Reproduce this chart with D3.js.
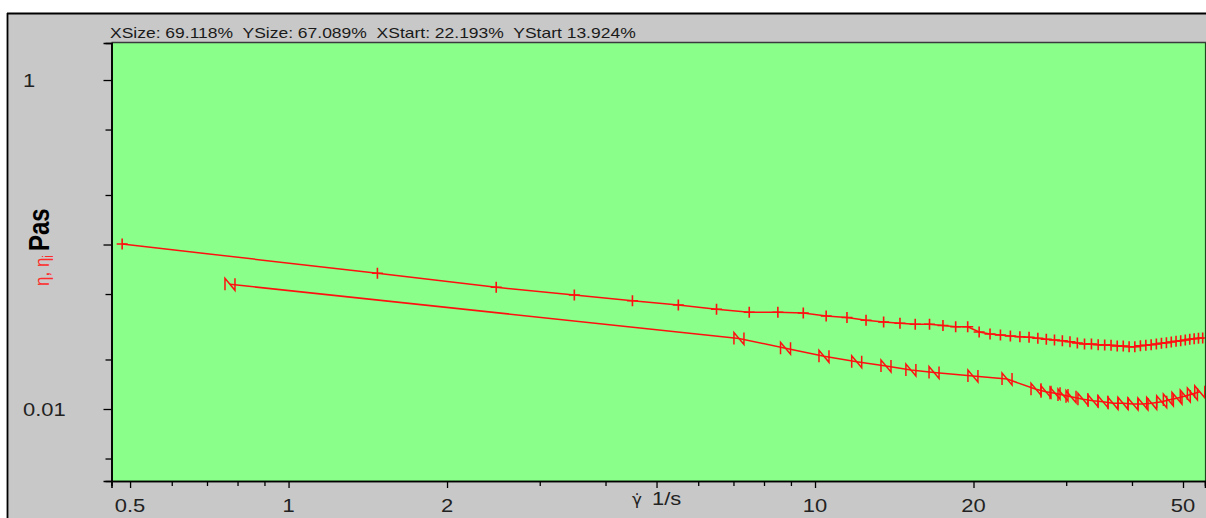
<!DOCTYPE html>
<html>
<head>
<meta charset="utf-8">
<script src="https://cdn.jsdelivr.net/npm/d3@7"></script>
<style>
  html, body { margin: 0; padding: 0; background: #fff; overflow: hidden; }
  svg { display: block; }
  text { font-family: "Liberation Sans", Arial, sans-serif; }
</style>
</head>
<body>
<svg id="chart" width="1206" height="518"></svg>
<script>
// Viscosity η (1/s, Pa·s)
const shearRate = [0.483, 1.475, 2.48, 3.49, 4.5, 5.5, 6.5, 7.5, 8.5, 9.5,
  10.5, 11.5, 12.5, 13.5, 14.5, 15.5, 16.5, 17.5, 18.5, 19.5,
  20.5, 21.5, 22.5, 23.5, 24.5, 25.5, 26.5, 27.5, 28.5, 29.5,
  30.5, 31.5, 32.5, 33.5, 34.5, 35.5, 36.5, 37.5, 38.5, 39.5,
  40.5, 41.5, 42.5, 43.5, 44.5, 45.5, 46.5, 47.5, 48.5, 49.5,
  50.5, 51.5, 52.5, 53.5, 54.5];
const viscosity = [0.1007, 0.06683, 0.05492, 0.04931, 0.04553, 0.04287, 0.04037, 0.03871, 0.03871, 0.03834,
  0.03676, 0.03600, 0.03461, 0.03380, 0.03319, 0.03277, 0.03277, 0.03218, 0.03164, 0.03164,
  0.02938, 0.02857, 0.02817, 0.02778, 0.02751, 0.02728, 0.02690, 0.02653, 0.02627, 0.02601,
  0.02565, 0.02519, 0.02484, 0.02484, 0.02459, 0.02449, 0.02439, 0.02415, 0.02415, 0.02392,
  0.02392, 0.02425, 0.02439, 0.02459, 0.02484, 0.02508, 0.02529, 0.02554, 0.02579, 0.02601,
  0.02627, 0.02653, 0.02675, 0.02690, 0.02701];

// Viscosity ηi
const shearRateI = [0.774, 7.17, 8.79, 10.4, 12.0, 13.64, 15.21, 16.83, 19.95, 23.16,
  26.29, 27.46, 28.57, 29.58, 30.64, 32.28, 33.73, 35.24, 36.81, 38.46,
  40.18, 41.97, 43.6, 45.55, 46.9, 48.7, 50.5, 52.1, 53.8];
const viscosityI = [0.05728, 0.02683, 0.02339, 0.02091, 0.01939, 0.01826, 0.01726, 0.01667, 0.01588, 0.01522,
  0.01318, 0.01274, 0.01246, 0.01217, 0.01188, 0.01146, 0.01123, 0.01107, 0.01083, 0.01083,
  0.01072, 0.01072, 0.01083, 0.01107, 0.01134, 0.01162, 0.01200, 0.01234, 0.01274];

// Axis ticks
const xTicks = [0.5, 0.6, 0.7, 0.8, 0.9, 1, 2, 3, 4, 5, 6, 7, 8, 9, 10, 20, 30, 40, 50];
const xMajorTicks = [0.5, 1, 2, 5, 10, 20, 50];
const xTickLabels = [0.5, 1, 2, 10, 20, 50];
const yTicks = [0.005, 0.01, 0.02, 0.05, 0.1, 0.2, 0.5, 1];
const yMajorTicks = [0.01, 0.1, 1];
const yTickLabels = [0.01, 1];

const headerText = "XSize: 69.118%  YSize: 67.089%  XStart: 22.193%  YStart 13.924%";

const SX = 1.22; // horizontal text stretch
const svg = d3.select("#chart");
const plot = { left: 111.5, right: 1205, top: 43, bottom: 481 };

const x = d3.scaleLog().domain([0.461, 55.05]).range([plot.left, plot.right]);
const y = d3.scaleLog().domain([0.00365, 1.679]).range([plot.bottom, plot.top]);

// Frame panel
svg.append("rect").attr("x", 0).attr("y", 0).attr("width", 1206).attr("height", 518).attr("fill", "#fff");
svg.append("rect").attr("x", 7).attr("y", 13).attr("width", 1199).attr("height", 505).attr("fill", "#c8c8c8");
svg.append("line").attr("x1", 7).attr("x2", 1206).attr("y1", 13.5).attr("y2", 13.5).attr("stroke", "#000").attr("stroke-width", 1.8);
svg.append("line").attr("x1", 7.5).attr("x2", 7.5).attr("y1", 13).attr("y2", 518).attr("stroke", "#000").attr("stroke-width", 1.8);

// Header
svg.append("text")
  .attr("transform", `translate(110,37.5) scale(1.25,1)`)
  .style("white-space", "pre")
  .attr("font-size", 14).attr("fill", "#1a1a1a")
  .text(headerText);

// Plot area
svg.append("rect").attr("x", plot.left).attr("y", plot.top)
  .attr("width", plot.right - plot.left).attr("height", plot.bottom - plot.top)
  .attr("fill", "#8aff8a");
svg.append("line").attr("x1", plot.left).attr("x2", plot.right + 1).attr("y1", plot.top - 0.5).attr("y2", plot.top - 0.5)
  .attr("stroke", "#3a3a3a").attr("stroke-width", 1.5);
svg.append("line").attr("x1", plot.right + 0.5).attr("x2", plot.right + 0.5).attr("y1", plot.top).attr("y2", plot.bottom)
  .attr("stroke", "#1f4a1f").attr("stroke-width", 1.2);

// Axes: ticks drawn through d3 axes, major and minor separately
const isMajorX = v => xMajorTicks.includes(v);
const isMajorY = v => yMajorTicks.includes(v);

const gx = svg.append("g").attr("transform", `translate(0,${plot.bottom})`);
gx.append("g").call(d3.axisBottom(x).tickValues(xTicks.filter(v => !isMajorX(v))).tickSize(5).tickFormat(""));
gx.append("g").call(d3.axisBottom(x).tickValues(xMajorTicks).tickSize(7).tickFormat(""));
gx.selectAll(".domain").attr("stroke", "#000").attr("stroke-width", 1.6);
gx.selectAll(".tick line").attr("stroke", "#000").attr("stroke-width", 1.3);

const gy = svg.append("g").attr("transform", `translate(${plot.left},0)`);
gy.append("g").call(d3.axisLeft(y).tickValues(yTicks.filter(v => !isMajorY(v))).tickSize(6).tickFormat(""));
gy.append("g").call(d3.axisLeft(y).tickValues(yMajorTicks).tickSize(8).tickFormat(""));
gy.selectAll(".domain").attr("stroke", "#000").attr("stroke-width", 1.6);
gy.selectAll(".tick line").attr("stroke", "#000").attr("stroke-width", 1.3);

// Tick labels
svg.append("g").selectAll("text").data(xTickLabels).join("text")
  .attr("transform", d => `translate(${x(d)},511.5) scale(${SX},1)`)
  .attr("text-anchor", "middle").attr("font-size", 18).attr("fill", "#222")
  .text(d => d);
svg.append("g").selectAll("text").data(yTickLabels).join("text")
  .attr("transform", d => `translate(23,${y(d) + 7}) scale(${SX},1)`)
  .attr("text-anchor", "start").attr("font-size", 18).attr("fill", "#222")
  .text(d => d);

// Axis titles: shear rate symbol (gamma with dot above) and unit
svg.append("text").attr("transform", `translate(632,505) scale(1.05,1)`)
  .style("font-family", "'DejaVu Sans', sans-serif")
  .attr("font-size", 16).attr("fill", "#222").text("\u03B3\u0307");
svg.append("text").attr("transform", `translate(652,505) scale(${SX},1)`)
  .attr("font-size", 18).attr("fill", "#222").text("1/s");

const yTitle = svg.append("text")
  .attr("transform", `translate(49,286) scale(${SX},1) rotate(-90)`)
  .attr("font-size", 17);
yTitle.append("tspan").attr("fill", "#ff2a2a").text("η, η");
yTitle.append("tspan").attr("fill", "#ff2a2a").attr("font-size", 12).attr("dy", 3).text("i");
yTitle.append("tspan").attr("fill", "#000").attr("font-size", 24).attr("font-weight", "bold").attr("dy", -3).attr("dx", 4).text("Pas");

// Data
svg.append("clipPath").attr("id", "plotClip").append("rect")
  .attr("x", plot.left).attr("y", plot.top)
  .attr("width", plot.right - plot.left).attr("height", plot.bottom - plot.top);
const data = svg.append("g").attr("clip-path", "url(#plotClip)");

const etaPts = shearRate.map((g, i) => [g, viscosity[i]]);
const etaIPts = shearRateI.map((g, i) => [g, viscosityI[i]]);
const line = d3.line().x(d => x(d[0])).y(d => y(d[1]));
const red = "#ff1010";

[etaPts, etaIPts].forEach(pts => {
  data.append("path").attr("d", line(pts)).attr("fill", "none")
    .attr("stroke", red).attr("stroke-width", 1.5);
});

data.append("g").selectAll("path").data(etaPts).join("path")
  .attr("transform", d => `translate(${x(d[0])},${y(d[1])})`)
  .attr("d", "M-5.5,0H5.5M0,-5.5V5.5")
  .attr("fill", "none").attr("stroke", red).attr("stroke-width", 1.6);

data.append("g").selectAll("path").data(etaIPts).join("path")
  .attr("transform", d => `translate(${x(d[0])},${y(d[1])})`)
  .attr("d", "M-5,6V-6L5,6V-6")
  .attr("fill", "none").attr("stroke", red).attr("stroke-width", 1.5);
</script>
</body>
</html>
